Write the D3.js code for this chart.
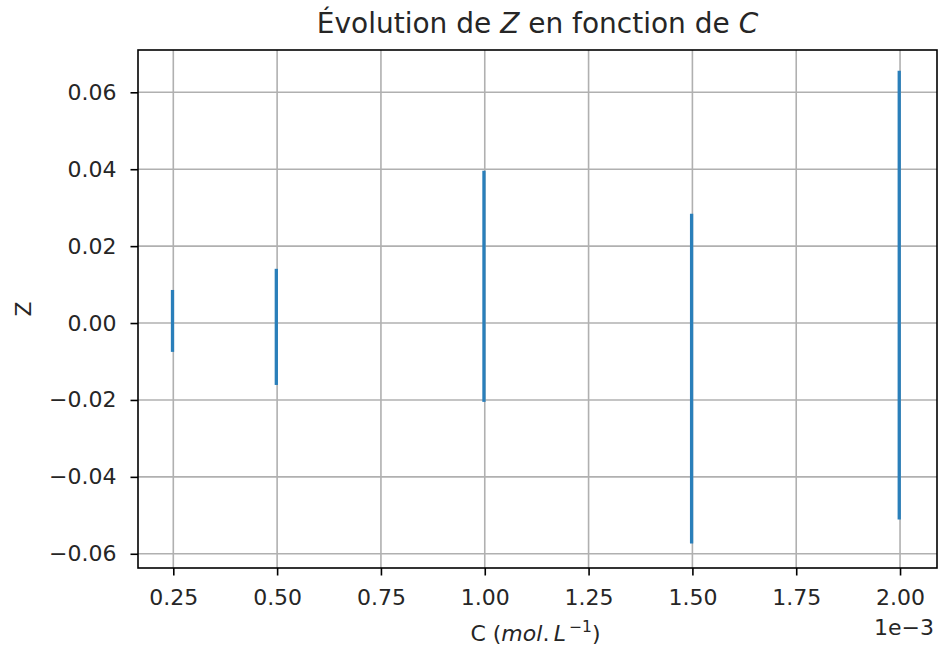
<!DOCTYPE html>
<html>
<head>
<meta charset="utf-8">
<script src="https://cdn.jsdelivr.net/npm/d3@7"></script>
<style>
  html, body { margin: 0; padding: 0; background: #fff; }
  svg { display: block; font-family: "DejaVu Sans", sans-serif; }
</style>
</head>
<body>
<svg id="chart" width="938" height="647"></svg>
<script>
// ---- data ----
const concentrations = [0.25e-3, 0.5e-3, 1.0e-3, 1.5e-3, 2.0e-3];
const zValues = [0.00055, -0.0010, 0.00955, -0.01445, 0.00725];
const zErrors = [0.00805, 0.0151, 0.03005, 0.04285, 0.05835];
const xTicks = [0.25e-3, 0.5e-3, 0.75e-3, 1.0e-3, 1.25e-3, 1.5e-3, 1.75e-3, 2.0e-3];
const yTicks = [-0.06, -0.04, -0.02, 0.0, 0.02, 0.04, 0.06];

(function () {
// ---- layout ----
const pLeft = 138, pRight = 937, pTop = 50, pBottom = 568;
const svg = d3.select("#chart");

const x = d3.scaleLinear().domain([0.165e-3, 2.089e-3]).range([pLeft, pRight]);
const y = d3.scaleLinear().domain([-0.0637, 0.0710]).range([pBottom, pTop]);

const textColor = "#262626";
const gridColor = "#b0b0b0";
const fs = "22px";

// grid
const grid = svg.append("g");
grid.selectAll(".gx").data(xTicks).enter().append("line")
  .attr("x1", d => x(d)).attr("x2", d => x(d))
  .attr("y1", pTop).attr("y2", pBottom)
  .attr("stroke", gridColor).attr("stroke-width", 1.6);
grid.selectAll(".gy").data(yTicks).enter().append("line")
  .attr("x1", pLeft).attr("x2", pRight)
  .attr("y1", d => y(d)).attr("y2", d => y(d))
  .attr("stroke", gridColor).attr("stroke-width", 1.6);

// error bars
const data = concentrations.map((c, i) => ({c, z: zValues[i], e: zErrors[i]}));
svg.append("g").selectAll("line").data(data).enter().append("line")
  .attr("x1", d => x(d.c) - 0.8).attr("x2", d => x(d.c) - 0.8)
  .attr("y1", d => y(d.z + d.e)).attr("y2", d => y(d.z - d.e))
  .attr("stroke", "#2a7fba").attr("stroke-width", 3.3);

// axes
const fmtX = v => (v * 1000).toFixed(2);
const fmtY = v => (v < 0 ? "\u2212" : "") + Math.abs(v).toFixed(2);

const xAxis = svg.append("g").attr("transform", `translate(0,${pBottom})`)
  .call(d3.axisBottom(x).tickValues(xTicks).tickFormat(fmtX).tickSizeInner(7.5).tickSizeOuter(0).tickPadding(14));
const yAxis = svg.append("g").attr("transform", `translate(${pLeft},0)`)
  .call(d3.axisLeft(y).tickValues(yTicks).tickFormat(fmtY).tickSizeInner(7.5).tickSizeOuter(0).tickPadding(14));

[xAxis, yAxis].forEach(a => {
  a.select(".domain").remove();
  a.selectAll(".tick line").attr("stroke", "#000").attr("stroke-width", 1.6);
  a.selectAll(".tick text").attr("fill", textColor)
    .style("font-family", "'DejaVu Sans', sans-serif").style("font-size", fs);
});

// spines
svg.append("rect")
  .attr("x", pLeft).attr("y", pTop)
  .attr("width", pRight - pLeft).attr("height", pBottom - pTop)
  .attr("fill", "none").attr("stroke", "#000").attr("stroke-width", 1.6);

// offset text
svg.append("text").attr("x", 934).attr("y", 635).attr("text-anchor", "end")
  .attr("fill", textColor).style("font-size", fs).text("1e\u22123");

// title
const title = svg.append("text").attr("x", (pLeft + pRight) / 2).attr("y", 33)
  .attr("text-anchor", "middle").attr("fill", textColor).style("font-size", "28px");
title.append("tspan").text("\u00c9volution de ");
title.append("tspan").style("font-style", "italic").text("Z");
title.append("tspan").text(" en fonction de ");
title.append("tspan").style("font-style", "italic").text("C");

// x label
const xl = svg.append("text").attr("x", (pLeft + pRight) / 2 - 2).attr("y", 641)
  .attr("text-anchor", "middle").attr("fill", textColor).style("font-size", fs);
xl.append("tspan").text("C (");
xl.append("tspan").style("font-style", "italic").text("mol");
xl.append("tspan").text(".\u2009");
xl.append("tspan").style("font-style", "italic").text("L");
xl.append("tspan").attr("dy", "-9").style("font-size", "15.5px").text("\u2009\u22121");
xl.append("tspan").attr("dy", "9").text(")");

// y label
svg.append("text").attr("transform", `translate(31,${(pTop + pBottom) / 2}) rotate(-90)`)
  .attr("text-anchor", "middle").attr("fill", textColor).style("font-size", fs).text("Z");
})();
</script>
</body>
</html>
